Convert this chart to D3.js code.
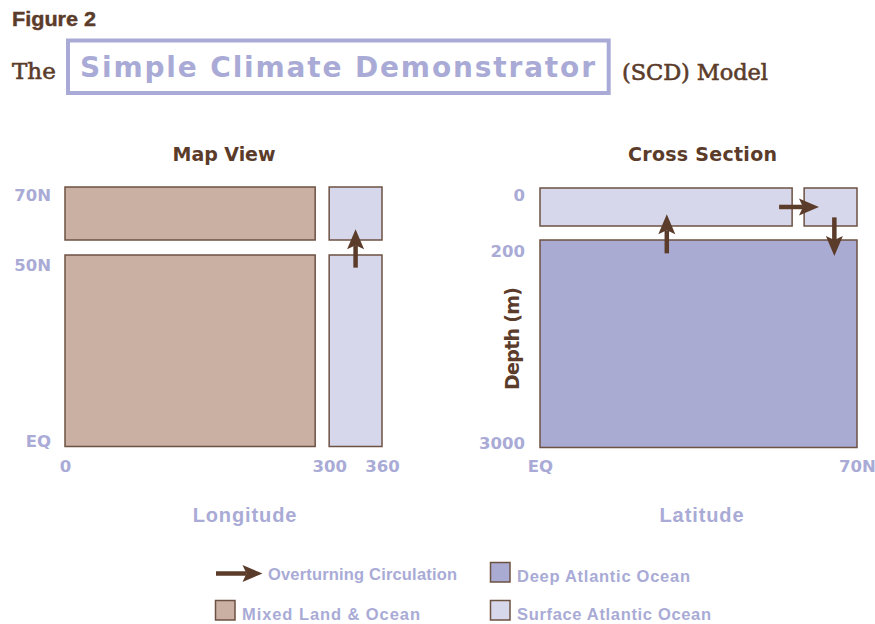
<!DOCTYPE html>
<html><head><meta charset="utf-8">
<script src="https://cdn.jsdelivr.net/npm/d3@7"></script>
<style>body{margin:0;background:#fff}</style>
</head><body>
<svg id="c" width="875" height="624"></svg>
<script>
// ---------- data ----------
const mapLonTicks = [0, 300, 360];
const mapLatTicks = [0, 50, 70];
const mapLatLabels = ["EQ", "50N", "70N"];
const depthTicks = [0, 200, 3000];
const crossLatTicks = [0, 70];
const crossLatLabels = ["EQ", "70N"];

const boxTypes = ["Mixed Land & Ocean", "Surface Atlantic Ocean", "Deep Atlantic Ocean"];
const typeColors = ["#c9b0a2", "#d6d7ea", "#a9abd2"];

// map view boxes (longitude / latitude)
const mapBoxLon0 = [0, 0, 300, 300];
const mapBoxLon1 = [300, 300, 360, 360];
const mapBoxLat0 = [50, 0, 50, 0];
const mapBoxLat1 = [70, 50, 70, 50];
const mapBoxType = [0, 0, 1, 1];

// cross-section boxes (latitude / depth m)
const crossBoxLat0 = [0, 57, 0];
const crossBoxLat1 = [57, 70, 70];
const crossBoxDep0 = [0, 0, 200];
const crossBoxDep1 = [200, 200, 3000];
const crossBoxType = [1, 1, 2];

// overturning circulation arrows
const mapFlowLon = [[330, 330]];
const mapFlowLat = [[46.7, 57.6]];
const crossFlowLat = [[28, 28], [52.8, 61.6], [65, 65]];
const crossFlowDep = [[380, 101], [73, 73], [113, 416]];

// ---------- style ----------
const BROWN = "#5b3b2a", EDGE = "#6d5143", BLUE = "#a9abd6";
const SANS = "'Liberation Sans', Arial, sans-serif";
const DSANS = "'DejaVu Sans', sans-serif";
const SERIF = "'DejaVu Serif', serif";
const svg = d3.select("#c");

// ---------- header ----------
svg.append("text").attr("x", 12).attr("y", 25.5).text("Figure 2")
  .attr("font-family", SANS).attr("font-weight", "bold").attr("font-size", 20)
  .attr("textLength", 84).attr("lengthAdjust", "spacingAndGlyphs").attr("fill", BROWN)
  .attr("stroke", BROWN).attr("stroke-width", 0.4);
svg.append("text").attr("x", 12).attr("y", 79).text("The")
  .attr("font-family", SERIF).attr("font-size", 23).attr("fill", BROWN)
  .attr("stroke", BROWN).attr("stroke-width", 0.6);
svg.append("rect").attr("x", 68).attr("y", 40.5).attr("width", 540.7).attr("height", 52.5)
  .attr("fill", "none").attr("stroke", BLUE).attr("stroke-width", 4);
svg.append("text").attr("x", 80).attr("y", 77).text("Simple Climate Demonstrator")
  .attr("font-family", DSANS).attr("font-weight", "bold").attr("font-size", 28)
  .attr("textLength", 515).attr("lengthAdjust", "spacing").attr("fill", BLUE);
svg.append("text").attr("x", 622).attr("y", 80).text("(SCD) Model")
  .attr("font-family", SERIF).attr("font-size", 22.5).attr("fill", BROWN)
  .attr("textLength", 146).attr("lengthAdjust", "spacing")
  .attr("stroke", BROWN).attr("stroke-width", 0.6);

// ---------- arrow helper ----------
function arrow(g, x0, y0, x1, y1) {
  const dx = x1 - x0, dy = y1 - y0, L = Math.hypot(dx, dy);
  const ux = dx / L, uy = dy / L, nx = -uy, ny = ux;
  const H = 20, W = 8.5, N = 4;
  const bx = x1 - H * ux, by = y1 - H * uy;
  const mx = x1 - (H - N) * ux, my = y1 - (H - N) * uy;
  g.append("line").attr("x1", x0).attr("y1", y0).attr("x2", mx).attr("y2", my)
    .attr("stroke", BROWN).attr("stroke-width", 4.5);
  g.append("path").attr("d", `M${x1},${y1}L${bx + W * nx},${by + W * ny}L${mx},${my}L${bx - W * nx},${by - W * ny}Z`)
    .attr("fill", BROWN);
}

function panelTitle(x, txt, w) {
  svg.append("text").attr("x", x).attr("y", 160.5).attr("text-anchor", "middle").text(txt)
    .attr("font-family", DSANS).attr("font-weight", "bold").attr("font-size", 19)
    .attr("textLength", w).attr("lengthAdjust", "spacing").attr("fill", BROWN);
}
function axisTitle(x, txt) {
  svg.append("text").attr("x", x).attr("y", 522).attr("text-anchor", "middle").text(txt)
    .attr("font-family", SANS).attr("font-weight", "bold").attr("font-size", 20)
    .attr("letter-spacing", 0.9).attr("fill", BLUE);
}
function styleAxis(g) {
  g.select(".domain").remove();
  g.selectAll("line").remove();
  g.selectAll("text").attr("font-family", DSANS).attr("font-weight", "bold")
    .attr("font-size", 16.5).attr("fill", BLUE);
}

// ---------- Map View ----------
const lonX = d3.scaleLinear().domain([0, 360]).range([65, 382]);
const mapY = d3.scaleLinear().domain([0, 50, 70]).range([446.5, 255, 187]);
const mapYLab = d3.scaleLinear().domain([0, 70]).range([441, 195]);
const mapG = svg.append("g");
mapBoxLon0.forEach((_, i) => {
  const l = lonX(mapBoxLon0[i]);
  const r = lonX(mapBoxLon1[i]) - (mapBoxLon1[i] < 360 ? 14 : 0);
  const t = mapY(mapBoxLat1[i]);
  const b = mapY(mapBoxLat0[i]) - (mapBoxLat0[i] > 0 ? 15 : 0);
  mapG.append("rect").attr("x", l).attr("y", t).attr("width", r - l).attr("height", b - t)
    .attr("fill", typeColors[mapBoxType[i]]).attr("stroke", EDGE).attr("stroke-width", 1.5);
});
mapFlowLon.forEach((lo, i) => arrow(mapG, lonX(lo[0]), mapY(mapFlowLat[i][0]), lonX(lo[1]), mapY(mapFlowLat[i][1])));
svg.append("g").attr("transform", "translate(51,0)")
  .call(d3.axisLeft(mapYLab).tickValues(mapLatTicks).tickFormat((d, i) => mapLatLabels[i]).tickSize(0).tickPadding(0))
  .call(styleAxis);
svg.append("g").attr("transform", "translate(0,460)")
  .call(d3.axisBottom(lonX).tickValues(mapLonTicks).tickFormat(d3.format("d")).tickSize(0).tickPadding(0))
  .call(styleAxis);
panelTitle(224, "Map View", 103);
axisTitle(245, "Longitude");

// ---------- Cross Section ----------
const latX = d3.scaleLinear().domain([0, 70]).range([540, 857]);
const depY = d3.scaleLinear().domain([0, 200, 3000]).range([188, 240, 447.5]);
const depYLab = d3.scaleLinear().domain([0, 200, 3000]).range([195, 251, 443]);
const crG = svg.append("g");
crossBoxLat0.forEach((_, i) => {
  const l = latX(crossBoxLat0[i]) + (crossBoxLat0[i] > 0 ? 6 : 0);
  const r = latX(crossBoxLat1[i]) - (crossBoxLat1[i] < 70 ? 6 : 0);
  const t = depY(crossBoxDep0[i]);
  const b = depY(crossBoxDep1[i]) - (crossBoxDep1[i] < 3000 ? 14 : 0);
  crG.append("rect").attr("x", l).attr("y", t).attr("width", r - l).attr("height", b - t)
    .attr("fill", typeColors[crossBoxType[i]]).attr("stroke", EDGE).attr("stroke-width", 1.5);
});
crossFlowLat.forEach((la, i) => arrow(crG, latX(la[0]), depY(crossFlowDep[i][0]), latX(la[1]), depY(crossFlowDep[i][1])));
svg.append("g").attr("transform", "translate(525,0)")
  .call(d3.axisLeft(depYLab).tickValues(depthTicks).tickFormat(d3.format("d")).tickSize(0).tickPadding(0))
  .call(styleAxis);
svg.append("g").attr("transform", "translate(0,460)")
  .call(d3.axisBottom(latX).tickValues(crossLatTicks).tickFormat((d, i) => crossLatLabels[i]).tickSize(0).tickPadding(0))
  .call(styleAxis);
panelTitle(702.5, "Cross Section", 149);
axisTitle(702, "Latitude");
svg.append("text").attr("transform", "translate(519,338.5) rotate(-90)").attr("text-anchor", "middle")
  .text("Depth (m)").attr("font-family", DSANS).attr("font-weight", "bold").attr("font-size", 19)
  .attr("textLength", 103).attr("lengthAdjust", "spacing").attr("fill", BROWN);

// ---------- Legend ----------
const lg = svg.append("g");
arrow(lg, 216, 573.5, 262.5, 573.5);
const legendItems = [
  {label: "Overturning Circulation", type: -1, sx: 0, sy: 0, tx: 268, ty: 580, w: 189},
  {label: boxTypes[2], type: 2, sx: 490.5, sy: 562.5, tx: 517, ty: 581.5, w: 173},
  {label: boxTypes[0], type: 0, sx: 215.5, sy: 600.5, tx: 242, ty: 620, w: 178},
  {label: boxTypes[1], type: 1, sx: 490.5, sy: 600.5, tx: 517, ty: 619.5, w: 194}
];
legendItems.forEach(it => {
  if (it.type >= 0) lg.append("rect").attr("x", it.sx).attr("y", it.sy).attr("width", 19.5).attr("height", 19.5)
    .attr("fill", typeColors[it.type]).attr("stroke", EDGE).attr("stroke-width", 1.5);
  lg.append("text").attr("x", it.tx).attr("y", it.ty).text(it.label)
    .attr("font-family", SANS).attr("font-weight", "bold").attr("font-size", 16.5)
    .attr("textLength", it.w).attr("lengthAdjust", "spacing").attr("fill", BLUE);
});
</script>
</body></html>
